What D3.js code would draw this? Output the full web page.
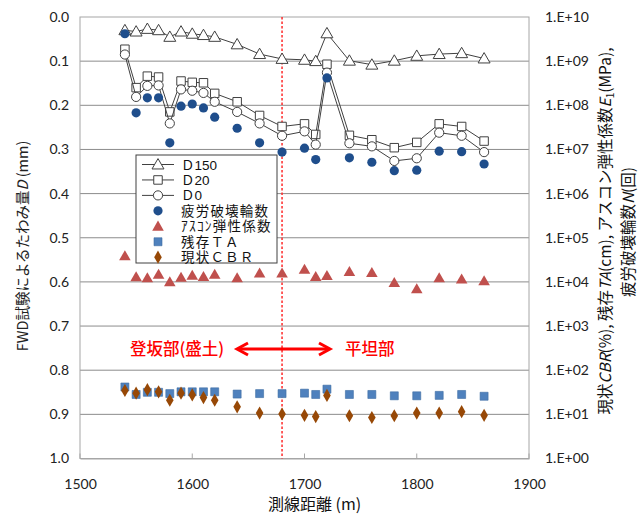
<!DOCTYPE html>
<html>
<head>
<meta charset="utf-8">
<script src="https://cdn.jsdelivr.net/npm/d3@7"></script>
<style>
  html, body { margin: 0; padding: 0; background: #fff; }
  svg { display: block; }
  text { font-family: "Noto Sans CJK JP", "Noto Sans", sans-serif; }
  .num { font-family: Lato, "Open Sans", sans-serif; }
  .leg { font-family: "Liberation Sans", "Noto Sans CJK JP", sans-serif; }
</style>
</head>
<body>
<svg id="chart" width="643" height="516"></svg>
<script>
// Survey stations (m)
const stations = [1540,1550,1560,1570,1580,1590,1600,1610,1620,1640,1660,1680,1700,1710,1720,1740,1760,1780,1800,1820,1840,1860];

// FWD deflections (mm), left axis
const d150 = [0.030,0.033,0.027,0.030,0.045,0.033,0.038,0.041,0.045,0.062,0.084,0.095,0.097,0.100,0.037,0.099,0.108,0.099,0.088,0.084,0.082,0.094];
const d20  = [0.073,0.160,0.134,0.136,0.215,0.145,0.148,0.149,0.173,0.192,0.223,0.248,0.242,0.266,0.107,0.268,0.278,0.296,0.284,0.242,0.248,0.281];
const d0   = [0.085,0.181,0.156,0.155,0.241,0.164,0.167,0.172,0.192,0.215,0.241,0.269,0.259,0.289,0.126,0.286,0.293,0.326,0.320,0.262,0.269,0.306];

// Right axis (log): fatigue life N, asphalt modulus E1, residual TA, current CBR
const fatigueN = [4.17e9,6.76e7,1.48e8,1.48e8,1.41e7,9.55e7,1.07e8,8.71e7,5.37e7,3.02e7,1.41e7,8.71e6,1.07e7,5.89e6,4.17e8,6.46e6,5.13e6,3.31e6,3.39e6,9.12e6,8.91e6,4.68e6];
const asconE1  = [38900,12900,12300,14800,10000,12600,14100,13200,14800,12300,15800,15800,19100,13200,13800,17000,16200,9550,6920,12300,11500,10500];
const residualTA = [41.7,28.2,31.6,31.6,29.5,32.4,32.4,32.4,32.4,28.8,29.5,29.5,30.2,28.2,37.2,28.2,28.2,26.3,26.3,26.9,28.2,25.7];
const currentCBR = [34.7,30.2,36.3,32.4,20.9,30.2,27.5,24.0,20.9,14.8,10.7,10.2,9.5,8.9,26.9,9.3,8.5,9.3,10.7,10.7,11.5,9.5];

// Axis ticks and labels
const xTicks = [1500,1600,1700,1800,1900];
const leftTicks = [0,0.1,0.2,0.3,0.4,0.5,0.6,0.7,0.8,0.9,1.0];
const rightExps = [0,1,2,3,4,5,6,7,8,9,10];
const boundaryStation = 1680;

const legendLabels = ["Ｄ150","Ｄ20","Ｄ0","疲労破壊輪数","ｱｽｺﾝ弾性係数","残存ＴＡ","現状ＣＢＲ"];
const zoneLeft = "登坂部(盛土)";
const zoneRight = "平坦部";

const plot = {left: 80, right: 529, top: 17, bottom: 458.5};
const svg = d3.select("#chart");

const x = d3.scaleLinear().domain([1500,1900]).range([plot.left, plot.right]);
const yL = d3.scaleLinear().domain([0,1]).range([plot.top, plot.bottom]);
const yR = d3.scaleLog().domain([1,1e10]).range([plot.bottom, plot.top]);

const gridColor = "#8c8c8c";
const lineColor = "#404040";
const navy = "#1F4E8C", red = "#C0504D", blue = "#4F81BD", brown = "#974806";

// Horizontal gridlines
svg.append("g").selectAll("line").data(leftTicks.slice(1, -1)).join("line")
  .attr("x1", plot.left).attr("x2", plot.right)
  .attr("y1", d => yL(d)).attr("y2", d => yL(d))
  .attr("stroke", gridColor).attr("stroke-width", 1);

// Plot frame
svg.append("rect")
  .attr("x", plot.left).attr("y", plot.top)
  .attr("width", plot.right - plot.left).attr("height", plot.bottom - plot.top)
  .attr("fill", "none").attr("stroke", "#a6a6a6").attr("stroke-width", 1);

// Bottom axis
const xAxis = d3.axisBottom(x).tickValues(xTicks).tickSize(0).tickPadding(21).tickFormat(d3.format("d"));
const gx = svg.append("g").attr("transform", `translate(0,${plot.bottom})`).call(xAxis);
gx.select(".domain").attr("stroke", "#a6a6a6");
gx.selectAll("text").attr("class", "num").attr("font-size", 14).attr("fill", "#222");
svg.append("g").selectAll("line").data(xTicks).join("line")
  .attr("x1", d => x(d)).attr("x2", d => x(d))
  .attr("y1", plot.bottom).attr("y2", plot.bottom - 5)
  .attr("stroke", "#a6a6a6");

// Left axis
const yAxisL = d3.axisLeft(yL).tickValues(leftTicks).tickSize(0).tickPadding(11).tickFormat(d3.format(".1f"));
const gl = svg.append("g").attr("transform", `translate(${plot.left},0)`).call(yAxisL);
gl.select(".domain").remove();
gl.selectAll("text").attr("class", "num").attr("font-size", 14).attr("fill", "#222");

// Right axis (log)
const yAxisR = d3.axisRight(yR).tickValues(rightExps.map(e => Math.pow(10, e))).tickSize(0).tickPadding(16)
  .tickFormat(d => "1.E+" + String(Math.round(Math.log10(d))).padStart(2, "0"));
const gr = svg.append("g").attr("transform", `translate(${plot.right},0)`).call(yAxisR);
gr.select(".domain").remove();
gr.selectAll("text").attr("class", "num").attr("font-size", 14).attr("fill", "#222");

// Boundary between slope section and flat section
svg.append("line")
  .attr("x1", x(boundaryStation)).attr("x2", x(boundaryStation))
  .attr("y1", plot.top).attr("y2", plot.bottom)
  .attr("stroke", "#ff2a2a").attr("stroke-width", 1.5).attr("stroke-dasharray", "2.5,2");

// Marker shapes
const triSym = d3.symbol().type(d3.symbolTriangle);
const sqSym = d3.symbol().type(d3.symbolSquare);
const diaSym = d3.symbol().type(d3.symbolDiamond);

function deflectionSeries(values, marker) {
  const pts = stations.map((s, i) => [s, values[i]]);
  svg.append("path").datum(pts)
    .attr("fill", "none").attr("stroke", lineColor).attr("stroke-width", 1)
    .attr("d", d3.line().x(d => x(d[0])).y(d => yL(d[1])));
  const g = svg.append("g");
  pts.forEach(p => drawMarker(g, marker, x(p[0]), yL(p[1])));
}

function drawMarker(g, marker, cx, cy) {
  if (marker === "tri") {
    g.append("path").attr("d", triSym.size(62)()).attr("transform", `translate(${cx},${cy + 1})`)
      .attr("fill", "#fff").attr("stroke", lineColor).attr("stroke-width", 1);
  } else if (marker === "sq") {
    g.append("path").attr("d", sqSym.size(72)()).attr("transform", `translate(${cx},${cy})`)
      .attr("fill", "#fff").attr("stroke", lineColor).attr("stroke-width", 1);
  } else if (marker === "circ") {
    g.append("circle").attr("cx", cx).attr("cy", cy).attr("r", 4.6)
      .attr("fill", "#fff").attr("stroke", lineColor).attr("stroke-width", 1);
  } else if (marker === "navy") {
    g.append("circle").attr("cx", cx).attr("cy", cy).attr("r", 4.6).attr("fill", navy);
  } else if (marker === "redtri") {
    g.append("path").attr("d", triSym.size(58)()).attr("transform", `translate(${cx},${cy + 1})`).attr("fill", red);
  } else if (marker === "bluesq") {
    g.append("path").attr("d", sqSym.size(64)()).attr("transform", `translate(${cx},${cy})`)
      .attr("fill", blue).attr("stroke", "#3d6ba3").attr("stroke-width", 0.6);
  } else if (marker === "dia") {
    g.append("path").attr("d", diaSym.size(50)()).attr("transform", `translate(${cx},${cy})`).attr("fill", brown);
  }
}

function logSeries(values, marker) {
  const g = svg.append("g");
  stations.forEach((s, i) => drawMarker(g, marker, x(s), yR(values[i])));
}

deflectionSeries(d150, "tri");
deflectionSeries(d20, "sq");
deflectionSeries(d0, "circ");
logSeries(fatigueN, "navy");
logSeries(asconE1, "redtri");
logSeries(residualTA, "bluesq");
logSeries(currentCBR, "dia");

// Legend
const lg = svg.append("g");
lg.append("rect").attr("x", 136).attr("y", 155).attr("width", 141).attr("height", 108)
  .attr("fill", "#fff").attr("stroke", "#404040").attr("stroke-width", 1);
const legendMarkers = ["tri","sq","circ","navy","redtri","bluesq","dia"];
legendLabels.forEach((lab, i) => {
  const cy = 164.5 + i * 15.45;
  if (i < 3) {
    lg.append("line").attr("x1", 142).attr("x2", 174).attr("y1", cy).attr("y2", cy)
      .attr("stroke", lineColor).attr("stroke-width", 1);
  }
  drawMarker(lg, legendMarkers[i], 158, cy);
  lg.append("text").attr("class", "leg").attr("x", 181).attr("y", cy + 5)
    .attr("font-size", 13.5).attr("letter-spacing", i < 3 ? 0 : 1.2).attr("fill", "#111").text(lab);
});

// Section annotation
const ann = svg.append("g");
ann.append("text").attr("x", 130).attr("y", 355).attr("font-size", 16.5).attr("font-weight", 500)
  .attr("fill", "#ff0000").text(zoneLeft);
ann.append("text").attr("x", 345).attr("y", 355).attr("font-size", 16.5).attr("font-weight", 500)
  .attr("fill", "#ff0000").text(zoneRight);
const ay = 349, ax1 = 237, ax2 = 330;
ann.append("line").attr("x1", ax1 + 2).attr("x2", ax2 - 2).attr("y1", ay).attr("y2", ay)
  .attr("stroke", "#ff0000").attr("stroke-width", 3);
ann.append("path").attr("d", `M${ax1 + 11},${ay - 6} L${ax1},${ay} L${ax1 + 11},${ay + 6}`)
  .attr("fill", "none").attr("stroke", "#ff0000").attr("stroke-width", 3).attr("stroke-linejoin", "miter");
ann.append("path").attr("d", `M${ax2 - 11},${ay - 6} L${ax2},${ay} L${ax2 - 11},${ay + 6}`)
  .attr("fill", "none").attr("stroke", "#ff0000").attr("stroke-width", 3).attr("stroke-linejoin", "miter");

// Axis titles
svg.append("text").attr("x", (plot.left + plot.right) / 2 + 10).attr("y", 510)
  .attr("text-anchor", "middle").attr("font-size", 16).attr("fill", "#111")
  .text("測線距離 (m)");

const lt = svg.append("text").attr("transform", "translate(28,246) rotate(-90)")
  .attr("text-anchor", "middle").attr("font-size", 14.5).attr("fill", "#222");
lt.append("tspan").text("FWD試験によるたわみ量");
lt.append("tspan").attr("font-style", "italic").text("D");
lt.append("tspan").text(" (mm)");

const rt1 = svg.append("text").attr("transform", "translate(611,231) rotate(-90)")
  .attr("text-anchor", "middle").attr("font-size", 15.5).attr("fill", "#111");
rt1.append("tspan").text("現状");
rt1.append("tspan").attr("font-style", "italic").text("CBR");
rt1.append("tspan").text("(%), 残存");
rt1.append("tspan").attr("font-style", "italic").text("TA");
rt1.append("tspan").text("(cm), アスコン弾性係数");
rt1.append("tspan").attr("font-style", "italic").text("E");
rt1.append("tspan").attr("font-size", 10).attr("dy", 3).text("1");
rt1.append("tspan").attr("dy", -3).text("(MPa),");

const rt2 = svg.append("text").attr("transform", "translate(634,232) rotate(-90)")
  .attr("text-anchor", "middle").attr("font-size", 15.5).attr("fill", "#111");
rt2.append("tspan").text("疲労破壊輪数");
rt2.append("tspan").attr("font-style", "italic").text("N");
rt2.append("tspan").text("(回)");
</script>
</body>
</html>
